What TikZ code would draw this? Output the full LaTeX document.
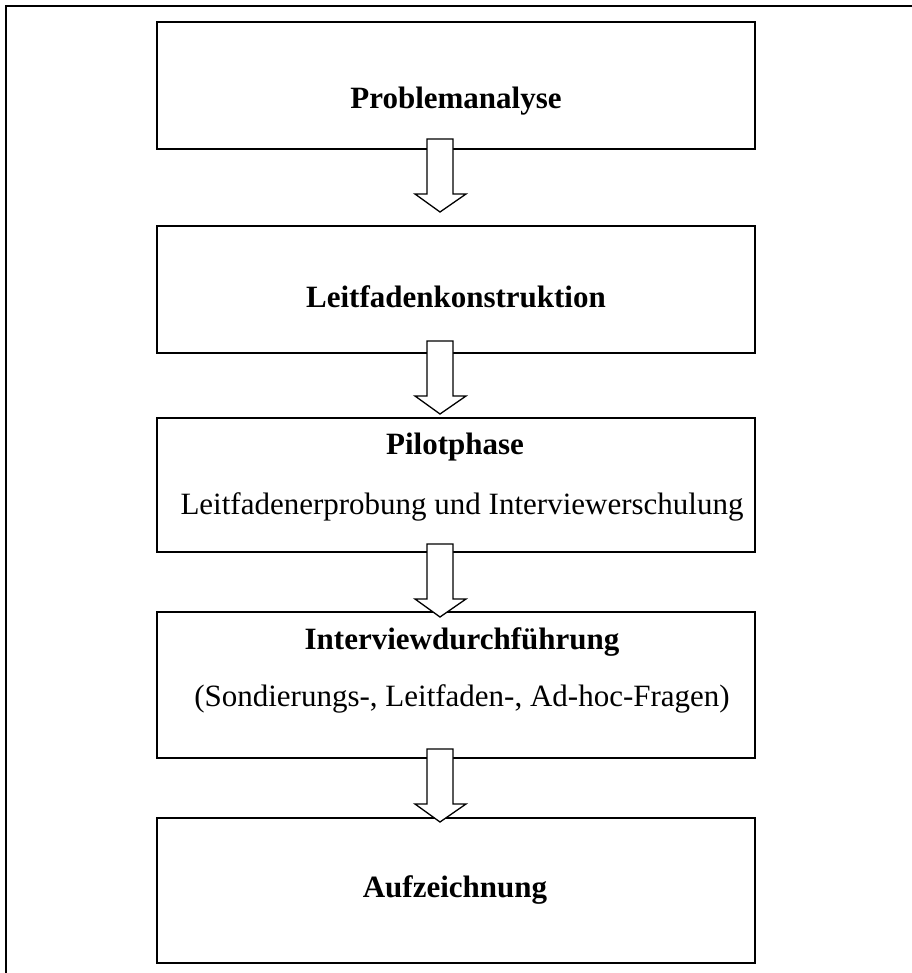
\documentclass[tikz,border=0pt]{standalone}
\usepackage{fontspec}
\setmainfont{Liberation Serif}
\usetikzlibrary{calc}
\tikzset{
  stepbox/.style={draw, line width=2pt, minimum width=598pt, inner sep=0pt},
  frameline/.style={line width=2pt},
  blocktext/.style={font=\fontsize{31}{37}\selectfont\bfseries, anchor=base, inner sep=0pt},
  plaintext/.style={font=\fontsize{31}{37}\selectfont, anchor=base, inner sep=0pt},
  arr/.style={draw, fill=white, line width=1.3pt, line join=miter},
  pics/blockarrow/.style={code={
    \draw[arr] (-13,0) -- (13,0) -- (13,55) -- (26,55) -- (0,73) -- (-25,55) -- (-13,55) -- cycle;
  }}
}
\begin{document}
\begin{tikzpicture}[x=1pt, y=-1pt]
\useasboundingbox (0,0) rectangle (911,973);
% outer frame (left and top edges visible)
\draw[frameline] (6,980) -- (6,6) -- (915,6);
% boxes
\node[stepbox, minimum height=127pt] (b1) at (456,85.5) {};
\node[stepbox, minimum height=127pt] (b2) at (456,289.5) {};
\node[stepbox, minimum height=134pt] (b3) at (456,485) {};
\node[stepbox, minimum height=146pt] (b4) at (456,685) {};
\node[stepbox, minimum height=145pt] (b5) at (456,890.5) {};
% texts
\node[blocktext] (t1) at (456,109) {Problemanalyse};
\node[blocktext] (t2) at (456,307) {Leitfadenkonstruktion};
\node[blocktext] (t3) at (455,454) {Pilotphase};
\node[plaintext] (t3b) at (462,514) {Leitfadenerprobung und Interviewerschulung};
\node[blocktext] (t4) at (462,649) {Interviewdurchführung};
\node[plaintext] (t4b) at (462,706) {(Sondierungs-, Leitfaden-, Ad-hoc-Fragen)};
\node[blocktext] (t5) at (455,897) {Aufzeichnung};
% block arrows
\pic at ($(b1.south)+(-16,-11)$) {blockarrow};
\pic at ($(b2.south)+(-16,-13)$) {blockarrow};
\pic at ($(b3.south)+(-16,-9)$) {blockarrow};
\pic at ($(b4.south)+(-16,-10)$) {blockarrow};
\end{tikzpicture}
\end{document}
